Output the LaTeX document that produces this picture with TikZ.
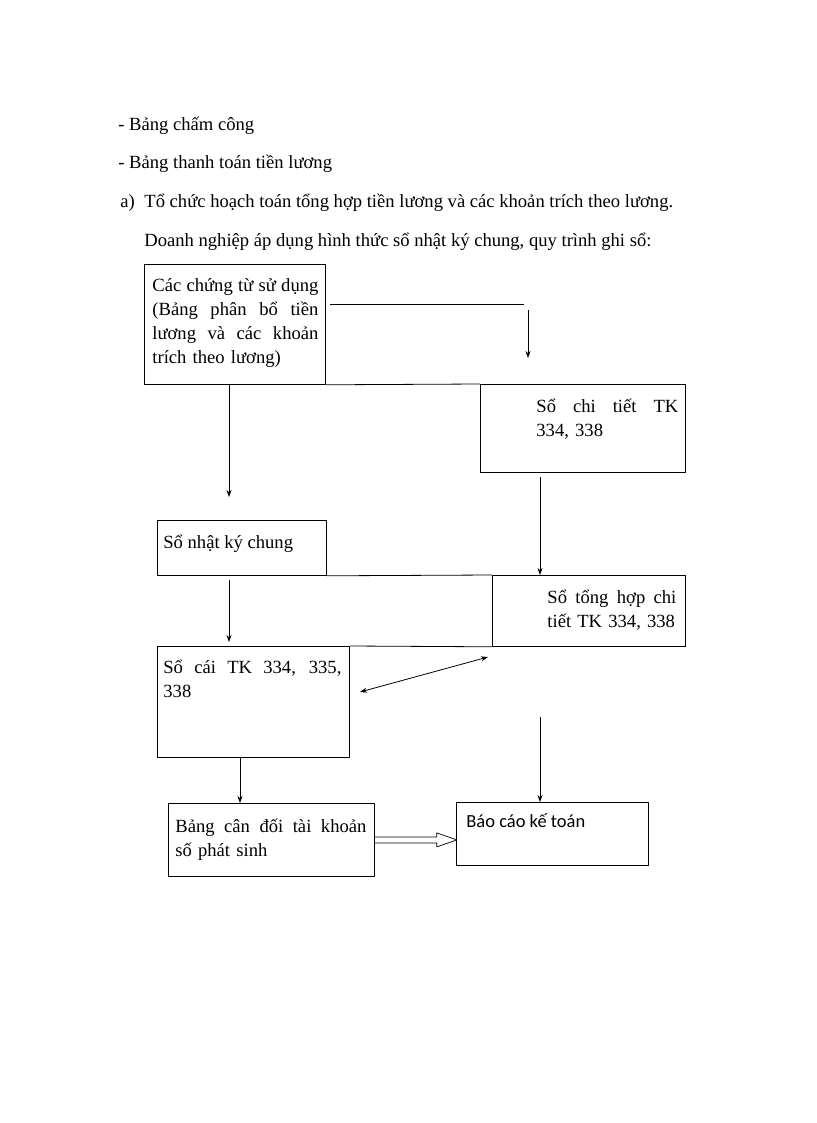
\documentclass[tikz,border=0pt]{standalone}
\usepackage{fontspec}
\setmainfont{Liberation Serif}
\newfontfamily\calfont{Carlito}
\usetikzlibrary{arrows.meta,calc}
\newcommand{\dong}[2]{\makebox[#1pt][s]{\spaceskip=0.25em plus 1fil\relax #2}}
\begin{document}
\begin{tikzpicture}
[x=1pt, y=-1pt, line width=0.8pt, line join=round, >={Stealth[length=7pt,width=5pt]},
 hop/.style={draw, inner sep=0pt, anchor=north west},
 chu/.style={inner sep=0pt, anchor=north west, align=left,
   font=\fontsize{18.6}{24}\selectfont, execute at begin node=\strut}]
\useasboundingbox (0,0) rectangle (816,1123);
% dong chu phia tren
\node[chu, anchor=base west] (d1) at (118,131) {- Bảng chấm công};
\node[chu, anchor=base west] (d2) at (118,169) {- Bảng thanh toán tiền lương};
\node[chu, anchor=base west] (d3) at (120,208) {a)};
\node[chu, anchor=base west] (d4) at (144,208) {Tổ chức hoạch toán tổng hợp tiền lương và các khoản trích theo lương.};
\node[chu, anchor=base west] (d5) at (144,246) {Doanh nghiệp áp dụng hình thức sổ nhật ký chung, quy trình ghi sổ:};
% cac hop
\node[hop, minimum width=181, minimum height=120] (ct) at (144,264) {};
\node[hop, minimum width=205, minimum height=88] (sct) at (480,384) {};
\node[hop, minimum width=169, minimum height=55] (nkc) at (157,520) {};
\node[hop, minimum width=193, minimum height=71] (sth) at (492,575) {};
\node[hop, minimum width=192, minimum height=111] (sc) at (157,646) {};
\node[hop, minimum width=206, minimum height=73] (bcd) at (168,803) {};
\node[hop, minimum width=192, minimum height=63] (bckt) at (456,802) {};
% chu trong hop
\node[chu, text width=166] (ct-t) at ($(ct.north west)+(8,10)$)
  {\dong{166}{Các chứng từ sử dụng}\\ \dong{166}{(Bảng phân bổ tiền}\\
   \dong{166}{lương và các khoản}\\ trích theo lương)};
\node[chu, text width=142] (sct-t) at ($(sct.north west)+(56,11)$)
  {\dong{142}{Sổ chi tiết TK}\\ 334, 338};
\node[chu] (nkc-t) at ($(nkc.north west)+(6,11)$) {Sổ nhật ký chung};
\node[chu, text width=129] (sth-t) at ($(sth.north west)+(55,11)$)
  {\dong{129}{Sổ tổng hợp chi}\\ tiết TK 334, 338};
\node[chu, text width=178] (sc-t) at ($(sc.north west)+(6,10)$)
  {\dong{178}{Sổ cái TK 334, 335,}\\ 338};
\node[chu, text width=191] (bcd-t) at ($(bcd.north west)+(7,12)$)
  {\dong{191}{Bảng cân đối tài khoản}\\ số phát sinh};
\node[inner sep=0pt, anchor=base west, font=\calfont\fontsize{18.5}{22}\selectfont] (bckt-t)
  at ($(bckt.north west)+(10,25)$) {Báo cáo kế toán};
% duong noi
\draw (ct.south east) -- (sct.north west);
\draw (nkc.south east) -- (sth.north west);
\draw (sc.north east) -- (sth.south west);
\coordinate (g1) at (330,304); \coordinate (g2) at (524,304);
\draw (g1) -- (g2);
\coordinate (g3) at (528,310); \coordinate (g4) at (528,358);
\draw[->] (g3) -- (g4);
\coordinate (g5) at (229,384); \coordinate (g6) at (229,497);
\draw[->] (g5) -- (g6);
\coordinate (g7) at (540,477);
\draw[->] (g7) -- (g7 |- sth.north);
\coordinate (g8) at (229,580); \coordinate (g9) at (229,642);
\draw[->] (g8) -- (g9);
\coordinate (h1) at (360,692); \coordinate (h2) at (488,657);
\draw[<->] (h1) -- (h2);
\coordinate (h3) at (240,757);
\draw[->] (h3) -- (h3 |- bcd.north);
\coordinate (h4) at (540,717);
\draw[->] (h4) -- (h4 |- bckt.north);
% mui ten rong
\draw[line width=0.7pt] ($(bcd.east)+(0,-3)$) -- ++(62,0) -- ++(0,-4) -- ++(20,7)
  -- ++(-20,7) -- ++(0,-4) -- ++(-62,0);
\end{tikzpicture}
\end{document}
